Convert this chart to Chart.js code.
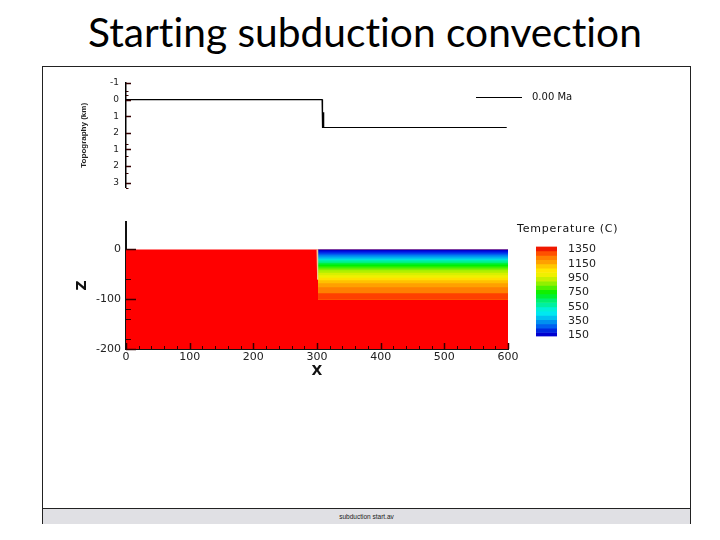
<!DOCTYPE html>
<html>
<head>
<meta charset="utf-8">
<script src="https://cdn.jsdelivr.net/npm/chart.js@4"></script>
<style>
  html, body { margin: 0; padding: 0; background: #fff; }
  body { width: 720px; height: 540px; position: relative; overflow: hidden; }
  canvas { position: absolute; }
  h1 { position: absolute; left: 0; width: 730px; top: 8px; margin: 0; text-align: center;
       font: normal 40.7px/48px Lato, sans-serif; color: #000; font-variant-ligatures: none; }
  #frame { position: absolute; left: 42px; top: 66px; width: 647px; height: 457px;
           border: solid #222; border-width: 1px 1px 0 1px; box-sizing: content-box; }
  #strip { position: absolute; left: 0; right: 0; bottom: 0; height: 16px; background: #e0e0e4;
           border-top: 1px solid #222; text-align: center;
           font: 6.5px/16px "Liberation Sans", sans-serif; color: #222; box-sizing: border-box; }
  #legendLine { position: absolute; left: 476px; top: 97px; width: 46px; height: 1px; background: #000; }
  #legendText { position: absolute; left: 532px; top: 91px; font: 10px/12px "DejaVu Sans", sans-serif; color: #111; }
  #tempTitle { position: absolute; left: 517px; top: 222px; font: 11px/14px "DejaVu Sans", sans-serif;
               color: #111; letter-spacing: .8px; white-space: nowrap; }
</style>
</head>
<body>
<h1>Starting subduction convection</h1>
<div id="frame"><div id="strip">subduction start.av</div></div>
<canvas id="topoChart" width="460" height="130" style="left:66px;top:70px"></canvas>
<div id="legendLine"></div>
<div id="legendText">0.00 Ma</div>
<canvas id="fieldChart" width="460" height="170" style="left:66px;top:210px"></canvas>
<div id="tempTitle">Temperature (C)</div>
<canvas id="barChart" width="130" height="125" style="left:500px;top:229px"></canvas>
<script>
// topography profile
const topoX = [0, 308, 308, 309, 309, 310.5, 310.5, 310.5, 598];
const topoY = [0, 0, 0.76, 0.76, 1.68, 1.68, 0.76, 1.68, 1.68];
const topoTicks = [-1, 0, 1, 2, 3, 4, 5];
const topoTickLabels = ['-1', '0', '1', '2', '1', '2', '3'];
const topoMinor = [-0.5, -0.25, 2.7, 3.4, 4.4, 5.3];

// temperature field, right of the step: top of each band (km) and its colour
const bandTops = [0, -3, -6, -10, -14, -18, -21, -24, -27, -30, -34, -38, -42, -47, -52, -57, -62, -68, -76, -88];
const bandColors = ['#0000c8', '#0010e0', '#0040f0', '#0080f0', '#00b0f0', '#00e0e0', '#00f0b0', '#00f080',
  '#00f040', '#00f000', '#40f000', '#80f000', '#b0f000', '#d8f000', '#f0f000', '#ffe000',
  '#ffc000', '#ffa000', '#ff8000', '#ff4000'];
const plateBottom = -100.8;
const stepX = 301.6;
const plateEnd = 600;
const seamX = [300, 301];
const seamZ = [0, -60];

const xTicks = [0, 100, 200, 300, 400, 500, 600];
const xMinor = [20, 40, 60, 80, 120, 140, 160, 180, 220, 240, 260, 280, 320, 340, 360, 380, 420, 440, 460, 480, 520, 540, 560, 580];
const zTicks = [0, -100, -200];
const zMinor = [-60, -120, -140, -180];

// colour bar
const tempTicks = [1350, 1150, 950, 750, 550, 350, 150];
const tempEdges = [1392, 1330, 1270, 1210, 1150, 1090, 1030, 970, 910, 850, 790, 730, 670, 610, 550, 490, 430, 370, 310, 250, 190, 136];
const tempColors = ['#f01800', '#ff5000', '#ff8000', '#ffa000', '#ffc800', '#ffe800', '#f0f000', '#c8f000', '#90f000',
  '#50f000', '#10f000', '#00f030', '#00f070', '#00f0a0', '#00f0d8', '#00e8f0', '#00c0f0', '#0090f0', '#0060f0', '#0028e0', '#0000d0'];

const tickFont = { family: '"DejaVu Sans", sans-serif', size: 11 };

// ticks sit inside the plot here, long for major and short for minor
function insideTicks(xMajor, xSmall, yMajor, ySmall, yLen) {
  return {
    id: 'insideTicks',
    afterDatasetsDraw(chart) {
      const c = chart.ctx, x = chart.scales.x, y = chart.scales.y;
      const base = chart.chartArea;
      c.save();
      c.strokeStyle = '#300';
      function yTick(v, len) {
        const p = Math.round(y.getPixelForValue(v)) + .5;
        c.beginPath(); c.moveTo(base.left, p); c.lineTo(base.left + len, p); c.stroke();
      }
      function xTick(v, len) {
        const p = Math.round(x.getPixelForValue(v)) + .5;
        c.beginPath(); c.moveTo(p, base.bottom); c.lineTo(p, base.bottom - len); c.stroke();
      }
      c.lineWidth = 1.5;
      yMajor.forEach(v => yTick(v, yLen));
      xMajor.forEach(v => xTick(v, 6));
      c.lineWidth = 1;
      ySmall.forEach(v => yTick(v, yLen * .5));
      xSmall.forEach(v => xTick(v, 3));
      c.restore();
    }
  };
}

new Chart(document.getElementById('topoChart'), {
  type: 'scatter',
  data: {
    datasets: [{
      label: '0.00 Ma',
      data: topoX.map((x, i) => ({ x: x, y: topoY[i] })),
      showLine: true,
      borderColor: '#000',
      borderWidth: 1.2,
      pointRadius: 0
    }]
  },
  options: {
    responsive: false,
    animation: false,
    layout: { autoPadding: false, padding: { top: 13, right: 18, bottom: 10, left: 13 } },
    plugins: { legend: { display: false }, tooltip: { enabled: false } },
    scales: {
      x: { type: 'linear', min: 0, max: 600, display: false },
      y: {
        reverse: true, min: -1, max: 5.3,
        afterBuildTicks: s => { s.ticks = topoTicks.map(v => ({ value: v })); },
        afterFit: s => { s.width = 47; },
        border: { color: '#000', width: 1.5 },
        grid: { drawOnChartArea: false, drawTicks: false },
        ticks: {
          padding: 7, color: '#222', autoSkip: false,
          font: { family: '"DejaVu Sans", sans-serif', size: 9 },
          callback: v => topoTickLabels[topoTicks.indexOf(v)]
        },
        title: {
          display: true, text: 'Topography (km)', color: '#222', padding: 0,
          font: { family: '"Liberation Sans", sans-serif', size: 8, weight: 'bold' }
        }
      }
    }
  },
  plugins: [insideTicks([], [], topoTicks, topoMinor, 5)]
});

// higher order is painted first: mantle, then bands from the top down,
// each one filled to the plate bottom so no red shows between them
const fieldSets = [{
  label: 'mantle',
  order: bandTops.length + 1,
  data: [{ x: 0, y: 0 }, { x: plateEnd, y: 0 }],
  showLine: true, borderWidth: 0, borderColor: 'transparent', pointRadius: 0,
  fill: 'start', backgroundColor: '#ff0000'
}];
bandTops.forEach((top, i) => {
  fieldSets.push({
    label: 'band ' + i,
    order: bandTops.length - i,
    data: [{ x: stepX, y: top }, { x: plateEnd, y: top }],
    showLine: true, borderWidth: 0, borderColor: 'transparent', pointRadius: 0,
    fill: { value: plateBottom },
    backgroundColor: bandColors[i]
  });
});
fieldSets.push({
  label: 'seam',
  order: 0,
  data: seamX.map((x, i) => ({ x: x, y: seamZ[i] })),
  showLine: true, borderWidth: 1, borderColor: '#f0c890', pointRadius: 0
});

new Chart(document.getElementById('fieldChart'), {
  type: 'scatter',
  data: { datasets: fieldSets },
  options: {
    responsive: false,
    animation: false,
    layout: { autoPadding: false, padding: { top: 10, right: 18, bottom: 0, left: 8 } },
    plugins: { legend: { display: false }, tooltip: { enabled: false } },
    scales: {
      x: {
        type: 'linear', min: 0, max: 600,
        afterBuildTicks: s => { s.ticks = xTicks.map(v => ({ value: v })); },
        afterFit: s => { s.height = 31; },
        border: { color: '#111', width: 2 },
        grid: { drawOnChartArea: false, drawTicks: false },
        ticks: { padding: 2, color: '#222', font: tickFont, maxRotation: 0 },
        title: { display: true, text: 'X', color: '#111', padding: 0, font: { family: '"DejaVu Sans", sans-serif', size: 14, weight: 'bold' } }
      },
      y: {
        min: -200, max: 56,
        afterBuildTicks: s => { s.ticks = zTicks.map(v => ({ value: v })); },
        afterFit: s => { s.width = 52; },
        border: { color: '#111', width: 2 },
        grid: { drawOnChartArea: false, drawTicks: false },
        ticks: { padding: 5, color: '#222', font: tickFont },
        title: { display: true, text: 'Z', color: '#111', padding: 0, font: { family: '"DejaVu Sans", sans-serif', size: 14, weight: 'bold' } }
      }
    }
  },
  plugins: [insideTicks(xTicks, xMinor, zTicks, zMinor, 10)]
});

new Chart(document.getElementById('barChart'), {
  type: 'bar',
  data: {
    labels: ['T'],
    datasets: tempColors.map((col, i) => ({
      label: String(tempEdges[i]),
      data: [[tempEdges[i + 1], tempEdges[i]]],
      backgroundColor: col,
      barPercentage: 1,
      categoryPercentage: 1,
      grouped: false
    }))
  },
  options: {
    responsive: false,
    animation: false,
    layout: { autoPadding: false, padding: { top: 0, right: 0, bottom: 0, left: 36 } },
    plugins: { legend: { display: false }, tooltip: { enabled: false } },
    scales: {
      x: { display: false },
      y: {
        position: 'right', min: 136, max: 1392,
        afterBuildTicks: s => { s.ticks = tempTicks.map(v => ({ value: v })); },
        afterFit: s => { s.width = 73; },
        border: { display: false },
        grid: { display: false, drawTicks: false },
        ticks: { padding: 11, color: '#222', autoSkip: false, font: tickFont, callback: v => String(v) }
      }
    }
  }
});
</script>
</body>
</html>
